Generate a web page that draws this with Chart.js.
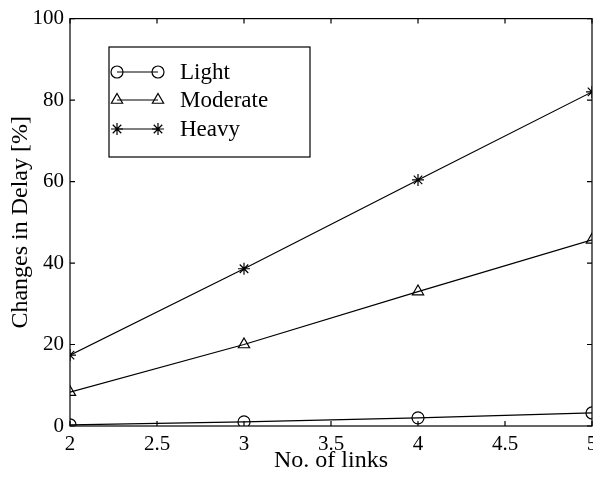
<!DOCTYPE html>
<html>
<head>
<meta charset="utf-8">
<script src="https://cdn.jsdelivr.net/npm/chart.js@4/dist/chart.umd.min.js"></script>
<style>
  html, body { margin: 0; padding: 0; background: #fff; overflow: hidden; }
  #wrap { width: 620px; height: 479px; }
</style>
</head>
<body>
<div id="wrap"><canvas id="delayChart"></canvas></div>
<script>
// data
const links = [2, 3, 4, 5];
const light = [0.3, 1.0, 2.0, 3.2];
const moderate = [8.3, 20.0, 33.0, 45.7];
const heavy = [17.4, 38.6, 60.4, 82.0];
const seriesNames = ['Light', 'Moderate', 'Heavy'];
const markers = ['circle', 'triangle', 'star'];
const markerSizes = [6, 6.5, 6];

const serif = '"Liberation Serif", "Times New Roman", serif';

const toPoints = (ys) => links.map((x, i) => ({ x: x, y: ys[i] }));

const datasets = [light, moderate, heavy].map((ys, i) => ({
    label: seriesNames[i],
    data: toPoints(ys),
    borderColor: '#000',
    borderWidth: 1.2,
    pointStyle: markers[i],
    pointRadius: markerSizes[i],
    pointBorderColor: '#000',
    pointBackgroundColor: 'rgba(0,0,0,0)',
    pointBorderWidth: 1.2,
    tension: 0
}));

// box round the plot + matlab style inward ticks
const boxTicks = {
    id: 'boxTicks',
    afterDraw(chart) {
        const { ctx, chartArea: a, scales } = chart;
        ctx.save();
        ctx.strokeStyle = '#000';
        ctx.lineWidth = 1.2;
        ctx.strokeRect(a.left, a.top, a.right - a.left, a.bottom - a.top);
        const len = 5;
        ctx.beginPath();
        scales.x.ticks.forEach(t => {
            const px = scales.x.getPixelForValue(t.value);
            ctx.moveTo(px, a.bottom); ctx.lineTo(px, a.bottom - len);
            ctx.moveTo(px, a.top); ctx.lineTo(px, a.top + len);
        });
        scales.y.ticks.forEach(t => {
            const py = scales.y.getPixelForValue(t.value);
            ctx.moveTo(a.left, py); ctx.lineTo(a.left + len, py);
            ctx.moveTo(a.right, py); ctx.lineTo(a.right - len, py);
        });
        ctx.stroke();
        ctx.restore();
    }
};

// legend drawn like matlab: marker - line - marker, then name
const matlabLegend = {
    id: 'matlabLegend',
    afterDraw(chart) {
        const ctx = chart.ctx;
        const box = { x: 109, y: 47, w: 201, h: 110 };
        ctx.save();
        ctx.fillStyle = '#fff';
        ctx.fillRect(box.x, box.y, box.w, box.h);
        ctx.strokeStyle = '#000';
        ctx.lineWidth = 1.2;
        ctx.strokeRect(box.x, box.y, box.w, box.h);
        const rows = [72, 100, 129];
        chart.data.datasets.forEach((ds, i) => {
            const y = rows[i];
            ctx.strokeStyle = '#000';
            ctx.lineWidth = 1.2;
            ctx.beginPath();
            ctx.moveTo(117, y); ctx.lineTo(158, y);
            ctx.stroke();
            ctx.fillStyle = 'rgba(0,0,0,0)';
            const opts = { pointStyle: ds.pointStyle, radius: ds.pointRadius, rotation: 0, borderWidth: 1.2 };
            Chart.helpers.drawPoint(ctx, opts, 117, y);
            Chart.helpers.drawPoint(ctx, opts, 158, y);
            ctx.fillStyle = '#000';
            ctx.font = '23px ' + serif;
            ctx.textBaseline = 'middle';
            ctx.textAlign = 'left';
            ctx.fillText(ds.label, 180, y + 1);
        });
        ctx.restore();
    }
};

new Chart(document.getElementById('delayChart'), {
    type: 'line',
    data: { datasets: datasets },
    plugins: [boxTicks, matlabLegend],
    options: {
        responsive: true,
        maintainAspectRatio: false,
        animation: false,
        layout: { padding: { top: 17, right: 28, left: 0, bottom: 0 } },
        plugins: { legend: { display: false }, tooltip: { enabled: false } },
        scales: {
            x: {
                type: 'linear',
                min: 2,
                max: 5,
                ticks: {
                    stepSize: 0.5, color: '#000', padding: 6, maxRotation: 0,
                    font: { family: serif, size: 21 },
                    callback: (v) => String(v)
                },
                grid: { display: false, drawTicks: false, tickLength: 0 },
                border: { display: false },
                title: { display: true, text: 'No. of links', color: '#000', padding: { top: 0, bottom: 4 }, font: { family: serif, size: 24 } },
                afterFit(scale) { scale.height = 53; }
            },
            y: {
                min: 0,
                max: 100,
                ticks: { stepSize: 20, color: '#000', padding: 6, font: { family: serif, size: 21 } },
                grid: { display: false, drawTicks: false, tickLength: 0 },
                border: { display: false },
                title: { display: true, text: 'Changes in Delay [%]', color: '#000', padding: { top: 6, bottom: 0 }, font: { family: serif, size: 24 } },
                afterFit(scale) { scale.width = 70; }
            }
        }
    }
});
</script>
</body>
</html>
